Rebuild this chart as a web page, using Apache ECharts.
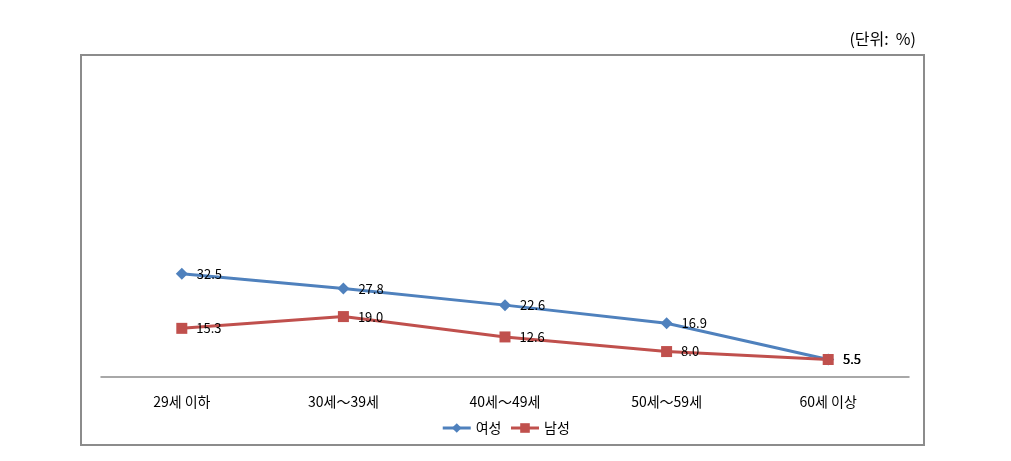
<!DOCTYPE html>
<html><head><meta charset="utf-8">
<script src="https://cdn.jsdelivr.net/npm/echarts@6/dist/echarts.min.js"></script>
<style>html,body{margin:0;padding:0;background:#fff}#c{width:1011px;height:461px}</style>
</head><body><div id="c"></div>
<script>
const categories = ['29세 이하', '30세～39세', '40세～49세', '50세～59세', '60세 이상'];
const female = [32.5, 27.8, 22.6, 16.9, 5.5];
const male = [15.3, 19.0, 12.6, 8.0, 5.5];
const unitLabel = '(단위:  %)';
const FONT = '"Noto Sans CJK KR", "Noto Sans", sans-serif';
const chart = echarts.init(document.getElementById('c'));
const labelCfg = {show: true, position: 'right', distance: 9, color: '#000', fontSize: 13, fontFamily: FONT, formatter: p => p.value.toFixed(1)};
chart.setOption({
  animation: false,
  textStyle: {fontFamily: FONT},
  title: {text: unitLabel, right: 90, top: 26, textStyle: {fontSize: 16, fontWeight: 'normal', color: '#000', fontFamily: FONT}},
  graphic: [{type: 'rect', shape: {x: 81, y: 55, width: 843, height: 390}, style: {fill: 'none', stroke: '#8c8c8c', lineWidth: 2}, z: -1}],
  grid: {left: 101, right: 102, top: 59, bottom: 84},
  legend: {bottom: 21, left: 'center', itemWidth: 28, itemHeight: 12, itemGap: 8,
    textStyle: {fontSize: 14, color: '#000', fontFamily: FONT},
    lineStyle: {width: 3},
    data: ['여성', '남성']},
  xAxis: {type: 'category', data: categories, boundaryGap: true,
    axisLine: {lineStyle: {color: '#8c8c8c', width: 1.5}}, axisTick: {show: false},
    axisLabel: {color: '#000', fontSize: 14, margin: 18, fontFamily: FONT}},
  yAxis: {type: 'value', min: 0, max: 100, show: false, splitLine: {show: false}},
  series: [
    {name: '여성', type: 'line', data: female, symbol: 'diamond', symbolSize: 12,
     lineStyle: {color: '#4f81bd', width: 3}, itemStyle: {color: '#4f81bd'}, label: labelCfg},
    {name: '남성', type: 'line', data: male, symbol: 'rect', symbolSize: 11,
     lineStyle: {color: '#c0504d', width: 3}, itemStyle: {color: '#c0504d'}, label: labelCfg}
  ]
});
</script></body></html>
